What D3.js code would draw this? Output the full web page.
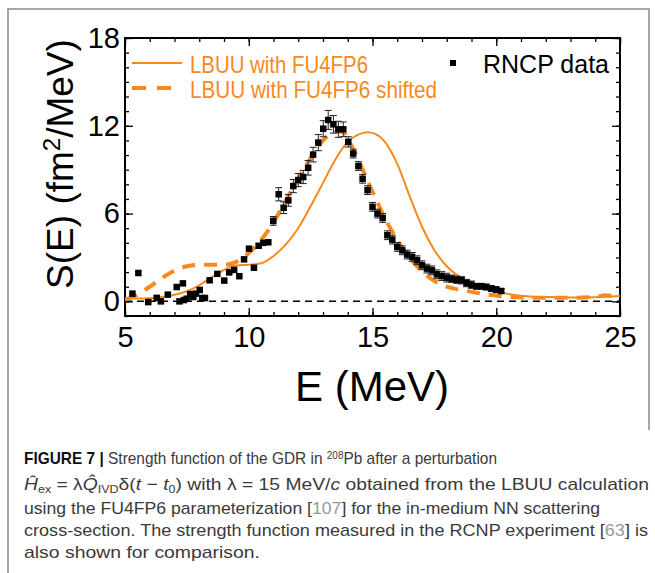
<!DOCTYPE html>
<html lang="en">
<head>
<meta charset="UTF-8">
<title>GDR strength function</title>
<script src="https://d3js.org/d3.v7.min.js"></script>
<style>
  html, body { margin: 0; padding: 0; background: #fff; }
  svg { display: block; font-family: 'Liberation Sans', Arial, Helvetica, sans-serif; }
</style>
</head>
<body>
<script>
'use strict'

// RCNP data (E in MeV, S in fm^2/MeV, error)
const dataE = [5.30, 5.54, 5.94, 6.28, 6.45, 6.73, 7.09, 7.20, 7.34, 7.38, 7.49, 7.63, 7.76, 7.87, 8.02, 8.12, 8.23,
  8.42, 8.73, 9.01, 9.21, 9.41, 9.62, 9.81, 10.01, 10.21, 10.40, 10.59, 10.79, 10.99, 11.21, 11.41, 11.60, 11.80,
  12.00, 12.20, 12.40, 12.60, 12.81, 13.01, 13.21, 13.42, 13.62, 13.82, 14.02, 14.22, 14.43, 14.60, 14.80, 15.00,
  15.20, 15.41, 15.60, 15.80, 16.00, 16.20, 16.40, 16.60, 16.80, 17.00, 17.20, 17.40, 17.60, 17.80, 18.00, 18.20,
  18.40, 18.60, 18.80, 19.00, 19.20, 19.40, 19.60, 19.80, 20.00, 20.20]
const dataS = [0.53, 1.94, -0.05, 0.24, 0.00, 0.46, 0.98, 0.00, 1.23, 0.09, 0.18, 0.50, 0.30, 0.53, 0.78, 0.23, 0.23,
  1.44, 1.88, 1.42, 1.98, 2.15, 1.72, 2.87, 3.60, 2.30, 3.80, 4.00, 4.04, 5.50, 7.32, 6.40, 6.90, 7.88,
  8.29, 8.50, 9.13, 10.03, 10.85, 11.80, 12.40, 12.10, 11.76, 11.76, 10.90, 10.10, 9.25, 8.38, 7.60, 6.46,
  6.00, 5.70, 4.52, 4.22, 3.72, 3.49, 3.20, 3.04, 2.81, 2.47, 2.24, 2.12, 1.85, 1.73, 1.62, 1.55,
  1.48, 1.44, 1.25, 1.14, 1.03, 1.03, 0.98, 0.87, 0.80, 0.71]
const dataErr = [0, 0, 0, 0, 0, 0, 0, 0, 0, 0, 0, 0, 0, 0, 0, 0, 0,
  0, 0, 0, 0, 0, 0, 0, 0, 0, 0, 0, 0, 0.3, 0.45, 0.4, 0.4, 0.45,
  0.45, 0.45, 0.5, 0.5, 0.55, 0.55, 0.65, 0.6, 0.55, 0.5, 0.35, 0.3, 0.3, 0.3, 0.3, 0.3,
  0.3, 0.3, 0.3, 0.3, 0.3, 0.3, 0.3, 0.3, 0.3, 0.3, 0.3, 0.3, 0.3, 0.3, 0.3, 0.25,
  0.25, 0.25, 0.25, 0.25, 0.2, 0.2, 0.2, 0.2, 0.2, 0.15]

// LBUU with FU4FP6
const lbuuE = [5.0, 5.5, 6.0, 6.5, 7.0, 7.5, 8.0, 8.5, 9.0, 9.5, 10.0, 10.5, 11.0, 11.5, 12.0, 12.5, 13.0, 13.5,
  14.0, 14.5, 14.8, 15.1, 15.5, 16.0, 16.5, 17.0, 17.5, 18.0, 18.5, 19.0, 19.5, 20.0, 20.5, 21.0, 21.5, 22.0,
  23.0, 24.0, 25.0]
const lbuuS = [0.2, 0.2, 0.22, 0.3, 0.45, 0.7, 1.1, 1.65, 2.15, 2.45, 2.5, 2.6, 3.1, 3.9, 5.0, 6.5, 8.1, 9.7,
  10.9, 11.45, 11.55, 11.45, 10.9, 9.4, 7.2, 5.1, 3.5, 2.4, 1.7, 1.25, 0.95, 0.7, 0.5, 0.38, 0.32, 0.3,
  0.27, 0.28, 0.36]

// LBUU with FU4FP6 shifted
const shiftE = [5.0, 5.5, 6.0, 6.5, 7.0, 7.5, 8.0, 8.5, 9.0, 9.5, 10.0, 10.5, 11.0, 11.5, 12.0, 12.5, 13.0, 13.5,
  13.8, 14.0, 14.5, 15.0, 15.5, 16.0, 16.5, 17.0, 17.5, 18.0, 18.5, 19.0, 19.5, 20.0, 20.5, 21.0, 22.0, 23.0,
  24.0, 24.4, 24.7, 25.0]
const shiftS = [0.12, 0.45, 1.0, 1.6, 2.1, 2.4, 2.5, 2.5, 2.5, 2.7, 3.3, 4.2, 5.4, 6.9, 8.4, 9.8, 11.0, 11.6,
  11.6, 11.1, 9.4, 7.5, 5.7, 4.2, 3.0, 2.05, 1.4, 1.0, 0.8, 0.65, 0.5, 0.4, 0.3, 0.27, 0.25, 0.25,
  0.3, 0.42, 0.38, 0.3]

const xTicks = [5, 10, 15, 20, 25]
const yTicks = [0, 6, 12, 18]
const legendLabels = ['LBUU with FU4FP6', 'LBUU with FU4FP6 shifted', 'RNCP data']

const W = 655, H = 573
const plot = {left: 125, right: 620, top: 38, bottom: 316}
const orange = '#f8891f'

const svg = d3.select('body').append('svg')
  .attr('width', W)
  .attr('height', H)

// outer grey frame
svg.append('path')
  .attr('d', `M8,${H} L8,9 L649,9 L649,430`)
  .attr('fill', 'none')
  .attr('stroke', '#8a8a8a')
  .attr('stroke-width', 1.5)

const x = d3.scaleLinear().domain([5, 25]).range([plot.left, plot.right])
const y = d3.scaleLinear().domain([-1, 18]).range([plot.bottom, plot.top])

svg.append('clipPath').attr('id', 'clip')
  .append('rect')
  .attr('x', plot.left).attr('y', plot.top)
  .attr('width', plot.right - plot.left).attr('height', plot.bottom - plot.top)

// ticks: major + minor on all four sides, pointing inward
const minorX = d3.range(5, 26, 1)
const minorY = d3.range(-1, 19, 1)

function styleAxis(g) {
  g.select('.domain').remove()
  g.selectAll('line').attr('stroke', '#000').attr('stroke-width', 1.3)
  g.selectAll('text').attr('font-size', 29).attr('fill', '#000').attr('font-family', null)
}

svg.append('g').attr('transform', `translate(0,${plot.bottom})`)
  .call(d3.axisBottom(x).tickValues(minorX).tickSize(-4).tickFormat(''))
  .call(styleAxis)
svg.append('g').attr('transform', `translate(0,${plot.bottom})`)
  .call(d3.axisBottom(x).tickValues(xTicks).tickSize(-8).tickPadding(10).tickFormat(d3.format('d')))
  .call(styleAxis)
svg.append('g').attr('transform', `translate(0,${plot.top})`)
  .call(d3.axisTop(x).tickValues(minorX).tickSize(-4).tickFormat(''))
  .call(styleAxis)
svg.append('g').attr('transform', `translate(0,${plot.top})`)
  .call(d3.axisTop(x).tickValues(xTicks).tickSize(-8).tickFormat(''))
  .call(styleAxis)

svg.append('g').attr('transform', `translate(${plot.left},0)`)
  .call(d3.axisLeft(y).tickValues(minorY).tickSize(-4).tickFormat(''))
  .call(styleAxis)
svg.append('g').attr('transform', `translate(${plot.left},0)`)
  .call(d3.axisLeft(y).tickValues(yTicks).tickSize(-8).tickPadding(5).tickFormat(d3.format('d')))
  .call(styleAxis)
svg.append('g').attr('transform', `translate(${plot.right},0)`)
  .call(d3.axisRight(y).tickValues(minorY).tickSize(-4).tickFormat(''))
  .call(styleAxis)
svg.append('g').attr('transform', `translate(${plot.right},0)`)
  .call(d3.axisRight(y).tickValues(yTicks).tickSize(-8).tickFormat(''))
  .call(styleAxis)

// frame
svg.append('rect')
  .attr('x', plot.left).attr('y', plot.top)
  .attr('width', plot.right - plot.left).attr('height', plot.bottom - plot.top)
  .attr('fill', 'none')
  .attr('stroke', '#000')
  .attr('stroke-width', 2)

const body = svg.append('g').attr('clip-path', 'url(#clip)')

// zero line
body.append('line')
  .attr('x1', x(5)).attr('x2', x(25))
  .attr('y1', y(0)).attr('y2', y(0))
  .attr('stroke', '#000')
  .attr('stroke-width', 1.5)
  .attr('stroke-dasharray', '7,5')

const line = d3.line()
  .x(d => x(d[0]))
  .y(d => y(d[1]))
  .curve(d3.curveMonotoneX)

body.append('path')
  .datum(lbuuE.map((e, i) => [e, lbuuS[i]]))
  .attr('d', line)
  .attr('fill', 'none')
  .attr('stroke', orange)
  .attr('stroke-width', 2)

body.append('path')
  .datum(shiftE.map((e, i) => [e, shiftS[i]]))
  .attr('d', line)
  .attr('fill', 'none')
  .attr('stroke', orange)
  .attr('stroke-width', 4)
  .attr('stroke-dasharray', '13,9')

// data: error bars then squares
const pts = dataE.map((e, i) => ({e: e, s: dataS[i], err: dataErr[i]}))
const eb = body.append('g')
  .attr('stroke', '#222')
  .attr('stroke-width', 1)
  .selectAll('g')
  .data(pts.filter(d => d.err > 0))
  .enter().append('g')
eb.append('line')
  .attr('x1', d => x(d.e)).attr('x2', d => x(d.e))
  .attr('y1', d => y(d.s - d.err)).attr('y2', d => y(d.s + d.err))
eb.append('line')
  .attr('x1', d => x(d.e) - 3.5).attr('x2', d => x(d.e) + 3.5)
  .attr('y1', d => y(d.s + d.err)).attr('y2', d => y(d.s + d.err))
eb.append('line')
  .attr('x1', d => x(d.e) - 3.5).attr('x2', d => x(d.e) + 3.5)
  .attr('y1', d => y(d.s - d.err)).attr('y2', d => y(d.s - d.err))

const sq = 6.5
body.append('g')
  .selectAll('rect')
  .data(pts)
  .enter().append('rect')
  .attr('x', d => x(d.e) - sq / 2)
  .attr('y', d => y(d.s) - sq / 2)
  .attr('width', sq)
  .attr('height', sq)
  .attr('fill', '#000')

// legend
const legend = svg.append('g')
legend.append('line')
  .attr('x1', 132).attr('x2', 182).attr('y1', 63).attr('y2', 63)
  .attr('stroke', orange).attr('stroke-width', 2)
legend.append('line')
  .attr('x1', 132).attr('x2', 172).attr('y1', 88).attr('y2', 88)
  .attr('stroke', orange).attr('stroke-width', 4).attr('stroke-dasharray', '14,11')
legend.append('text')
  .attr('x', 190).attr('y', 73)
  .attr('font-size', 24).attr('fill', orange)
  .attr('textLength', 178).attr('lengthAdjust', 'spacingAndGlyphs')
  .text(legendLabels[0])
legend.append('text')
  .attr('x', 190).attr('y', 98)
  .attr('font-size', 24).attr('fill', orange)
  .attr('textLength', 247).attr('lengthAdjust', 'spacingAndGlyphs')
  .text(legendLabels[1])
legend.append('rect')
  .attr('x', 450).attr('y', 60).attr('width', 6).attr('height', 6)
  .attr('fill', '#000')
legend.append('text')
  .attr('x', 483).attr('y', 73)
  .attr('font-size', 25).attr('fill', '#000')
  .text(legendLabels[2])

// axis titles
svg.append('text')
  .attr('x', 372).attr('y', 401)
  .attr('text-anchor', 'middle')
  .attr('font-size', 42)
  .text('E (MeV)')

const yTitle = svg.append('text')
  .attr('transform', 'translate(73,164) rotate(-90)')
  .attr('text-anchor', 'middle')
  .attr('font-size', 37)
yTitle.append('tspan').text('S(E) (fm')
yTitle.append('tspan').attr('font-size', 24).attr('baseline-shift', '55%').text('2')
yTitle.append('tspan').text('/MeV)')

// caption
const cap = svg.append('g').attr('font-size', 17).attr('fill', '#3a3a3a')

const l1 = cap.append('text').attr('x', 24).attr('y', 464)
  .attr('textLength', 473).attr('lengthAdjust', 'spacingAndGlyphs')
l1.append('tspan').attr('font-weight', 'bold').attr('fill', '#111').text('FIGURE 7 |')
l1.append('tspan').text(' Strength function of the GDR in ')
l1.append('tspan').attr('font-size', 11).attr('baseline-shift', '5').text('208')
l1.append('tspan').text('Pb after a perturbation')

const l2 = cap.append('text').attr('x', 24).attr('y', 490)
  .attr('textLength', 625).attr('lengthAdjust', 'spacingAndGlyphs')
l2.append('tspan').attr('font-style', 'italic').text('\u0124')
l2.append('tspan').attr('font-size', 11).attr('baseline-shift', '-3').text('ex')
l2.append('tspan').text(' = \u03bb')
l2.append('tspan').attr('font-style', 'italic').text('Q\u0302')
l2.append('tspan').attr('font-size', 11).attr('baseline-shift', '-3').text('IVD')
l2.append('tspan').text('\u03b4(')
l2.append('tspan').attr('font-style', 'italic').text('t')
l2.append('tspan').text(' \u2212 ')
l2.append('tspan').attr('font-style', 'italic').text('t')
l2.append('tspan').attr('font-size', 11).attr('baseline-shift', '-3').text('0')
l2.append('tspan').text(') with \u03bb = 15 MeV/')
l2.append('tspan').attr('font-style', 'italic').text('c')
l2.append('tspan').text(' obtained from the LBUU calculation')

const l3 = cap.append('text').attr('x', 24).attr('y', 514)
  .attr('textLength', 576).attr('lengthAdjust', 'spacingAndGlyphs')
l3.append('tspan').text('using the FU4FP6 parameterization [')
l3.append('tspan').attr('fill', '#999').text('107')
l3.append('tspan').text('] for the in-medium NN scattering')

const l4 = cap.append('text').attr('x', 24).attr('y', 536)
  .attr('textLength', 624).attr('lengthAdjust', 'spacingAndGlyphs')
l4.append('tspan').text('cross-section. The strength function measured in the RCNP experiment [')
l4.append('tspan').attr('fill', '#999').text('63')
l4.append('tspan').text('] is')

cap.append('text').attr('x', 24).attr('y', 558)
  .attr('textLength', 236).attr('lengthAdjust', 'spacingAndGlyphs')
  .text('also shown for comparison.')
</script>
</body>
</html>
